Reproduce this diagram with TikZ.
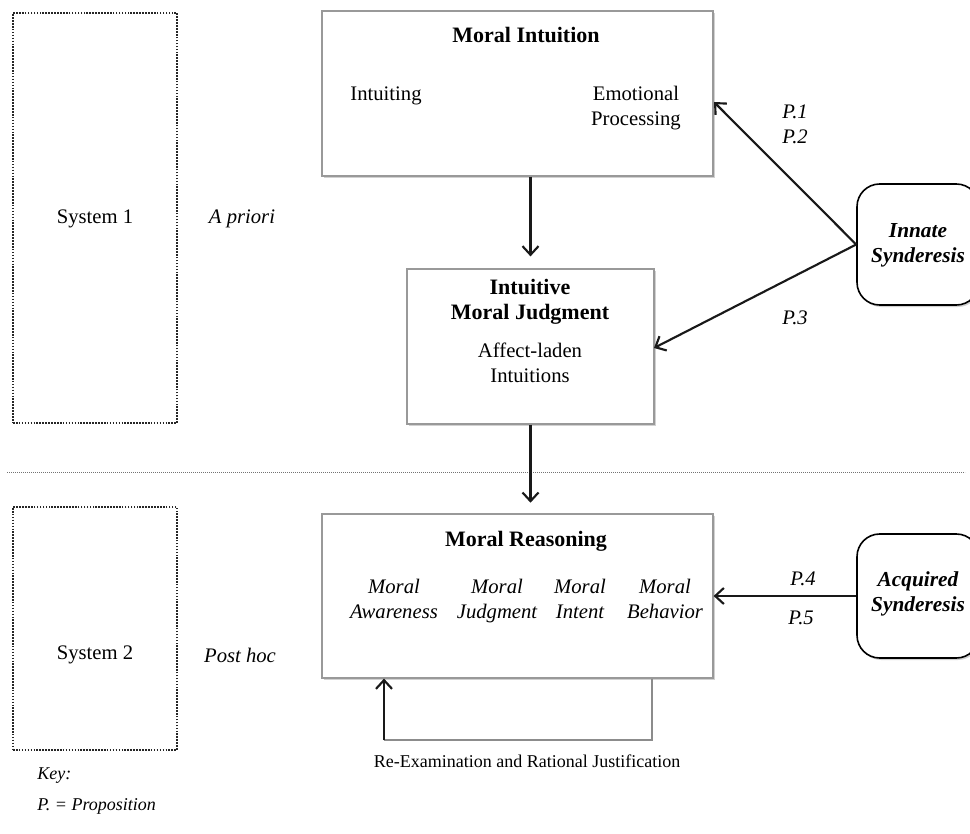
\documentclass[tikz,border=0pt]{standalone}
\usepackage{fontspec}
\setmainfont{Liberation Serif}
\usetikzlibrary{arrows.meta,shadows,fit}

\begin{document}
\begin{tikzpicture}[x=0.75pt,y=-0.75pt,
  every node/.style={inner sep=0pt, font=\fontsize{15.5}{18.75}\selectfont},
  framebox/.style={draw=black!40, line width=0.9pt, fill=white, inner sep=0pt,
    drop shadow={shadow xshift=1.2pt, shadow yshift=-1.5pt, opacity=0.18, fill=black}},
  sourcebox/.style={draw=black, line width=1.2pt, fill=white, inner sep=0pt, rounded corners=17pt,
    drop shadow={shadow xshift=1.2pt, shadow yshift=-1.5pt, opacity=0.18, fill=black}},
  sysbox/.style={draw=black!85, line width=1.6pt, dash pattern=on 1.2pt off 1pt},
  divider/.style={draw=black!55, line width=0.7pt, dash pattern=on 0.8pt off 0.7pt},
  flow/.style={line width=1.6pt, draw=black!90,
    -{Straight Barb[length=6.5pt,width=12pt]}},
  loopline/.style={draw=black!45, line width=0.8pt},
  title/.style={font=\fontsize{16.5}{19}\selectfont\bfseries, align=center},
  body/.style={align=center},
  item/.style={font=\fontsize{15.5}{18.75}\selectfont\itshape, align=center},
  source/.style={font=\fontsize{16}{19}\selectfont\bfseries\itshape, align=center},
  plabel/.style={font=\fontsize{15.5}{18.75}\selectfont\itshape},
  keytext/.style={font=\fontsize{13.5}{16}\selectfont\itshape, anchor=west},
  small/.style={font=\fontsize{13.5}{16}\selectfont},
]
\useasboundingbox (0,0) rectangle (970,834);

% system frames and divider
\node[sysbox, fit={(13,13) (177,423)}, inner sep=0pt] (sys1) {};
\node[sysbox, fit={(13,507) (177,750)}, inner sep=0pt] (sys2) {};
\coordinate (divL) at (7,472);
\coordinate (divR) at (965,472);
\draw[divider] (divL) -- (divR);

\node (s1) at (95,219) {System 1};
\node[item] (apriori) at (242,219) {A priori};
\node (s2) at (95,655) {System 2};
\node[item] (posthoc) at (240,655) {Post hoc};

% moral intuition
\node[framebox, fit={(322,11) (713,176)}] (mi) {};
\node[title] (mit) at (526,35) {Moral Intuition};
\node[body, anchor=north] (intuiting) at (386,83) {\strut Intuiting};
\node[body, anchor=north] (emo) at (636,83) {\strut Emotional\\\strut Processing};

% intuitive moral judgment
\node[framebox, fit={(407,269) (654,424)}] (imj) {};
\node[title, anchor=north] (imjt) at (530,276) {\strut Intuitive\\\strut Moral Judgment};
\node[body, anchor=north] (aff) at (530,340) {\strut Affect-laden\\\strut Intuitions};

% moral reasoning
\node[framebox, fit={(322,514) (713,678)}] (mr) {};
\node[title] (mrt) at (526,541) {Moral Reasoning};
\node[item, anchor=north] (maw) at (394,576) {\strut Moral\\\strut Awareness};
\node[item, anchor=north] (mju) at (497,576) {\strut Moral\\\strut Judgment};
\node[item, anchor=north] (min) at (580,576) {\strut Moral\\\strut Intent};
\node[item, anchor=north] (mbe) at (665,576) {\strut Moral\\\strut Behavior};

% synderesis sources
\node[sourcebox, fit={(857,184) (979,305)}] (innate) {};
\node[source] (innatet) at (918,245) {Innate\\Synderesis};
\node[sourcebox, fit={(857,534) (979,658)}] (acq) {};
\node[source] (acqt) at (918,594) {Acquired\\Synderesis};

% vertical flow
\draw[flow, shorten >=9pt] (mi.south -| imj.north) -- (imj.north);
\draw[flow, shorten >=8pt] (imj.south) -- (imj.south |- mr.north);

% synderesis influences
\coordinate (tipA) at (714,102);
\coordinate (tipB) at (654,348);
\draw[flow] (innate.west) -- (tipA);
\draw[flow] (innate.west) -- (tipB);
\draw[flow] (acq.west) -- (acq.west -| mr.east);

\node[plabel, align=center] (p12) at (795,124) {P.1\\P.2};
\node[plabel] (p3) at (795,318) {P.3};
\node[plabel] (p4) at (803,579) {P.4};
\node[plabel] (p5) at (801,618) {P.5};

% re-examination loop
\coordinate (fbR) at (652,740);
\coordinate (fbL) at (384,740);
\draw[loopline] (mr.south -| fbR) -- (fbR) -- (fbL);
\draw[flow] (fbL) -- (mr.south -| fbL);
\node[small] (reex) at (527,761) {Re-Examination and Rational Justification};

% key
\node[keytext] (key) at (37,776) {Key:};
\node[keytext] (keyp) at (37,806) {P. = Proposition};
\end{tikzpicture}
\end{document}
